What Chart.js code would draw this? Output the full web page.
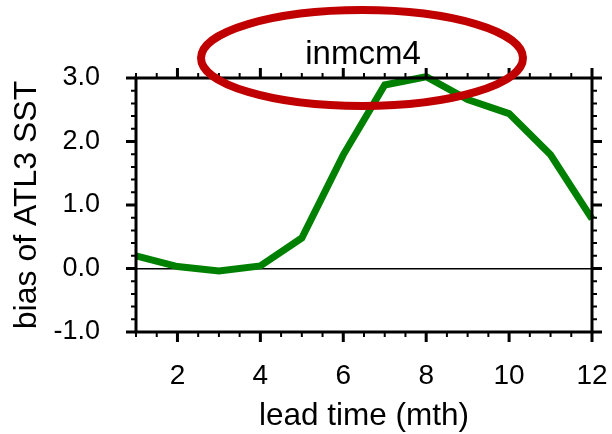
<!DOCTYPE html>
<html>
<head>
<meta charset="utf-8">
<script src="https://cdn.jsdelivr.net/npm/chart.js@4/dist/chart.umd.min.js"></script>
<style>
  html, body { margin: 0; padding: 0; background: #fff; }
  canvas { display: block; }
</style>
</head>
<body>
<canvas id="c" width="612" height="434"></canvas>
<script>
// Lead time in months and the ATL3 SST bias for inmcm4
const leadMonths = [1, 2, 3, 4, 5, 6, 7, 8, 9, 10, 11, 12];
const biasValues = [0.20, 0.03, -0.04, 0.04, 0.48, 1.79, 2.89, 3.02, 2.66, 2.44, 1.79, 0.78];

// Labelled ticks
const xTickValues = [2, 4, 6, 8, 10, 12];
const yTickValues = [-1, 0, 1, 2, 3];

// Axis ranges and minor tick spacing
const xRange = [1, 12];
const yRange = [-1, 3];
const xMinorStep = 0.5;
const yMinorStep = 0.2;

const modelName = 'inmcm4';
const xTitle = 'lead time (mth)';
const yTitle = 'bias of ATL3 SST';

const FONT = '"Liberation Sans", Arial, Helvetica, sans-serif';
Chart.defaults.color = '#000';
Chart.defaults.font.family = FONT;

// Frame with outward major/minor ticks on all four sides, the model name
// above the plot, and the highlight ellipse around it
const framePlugin = {
  id: 'frame',
  afterDatasetsDraw(chart) {
    const { ctx, chartArea: a, scales: { x, y } } = chart;
    ctx.save();
    ctx.strokeStyle = '#000';
    ctx.lineCap = 'butt';

    const major = (v, list) => list.some(t => Math.abs(t - v) < 1e-6);
    // x ticks (bottom: down, top: up)
    for (let v = xRange[0]; v <= xRange[1] + 1e-6; v += xMinorStep) {
      const px = x.getPixelForValue(v);
      const isMaj = major(v, xTickValues);
      const len = isMaj ? 10 : 5;
      ctx.lineWidth = isMaj ? 3 : 2;
      ctx.beginPath();
      ctx.moveTo(px, a.bottom); ctx.lineTo(px, a.bottom + len);
      ctx.moveTo(px, a.top); ctx.lineTo(px, a.top - len);
      ctx.stroke();
    }
    // y ticks (left: left, right: right)
    const nY = Math.round((yRange[1] - yRange[0]) / yMinorStep);
    for (let i = 0; i <= nY; i++) {
      const v = yRange[0] + i * yMinorStep;
      const py = y.getPixelForValue(v);
      const isMaj = major(v, yTickValues);
      const len = isMaj ? 10 : 5;
      ctx.lineWidth = isMaj ? 3 : 2;
      ctx.beginPath();
      ctx.moveTo(a.left, py); ctx.lineTo(a.left - len, py);
      ctx.moveTo(a.right, py); ctx.lineTo(a.right + len, py);
      ctx.stroke();
    }
    // plot frame
    ctx.lineWidth = 3;
    ctx.strokeRect(a.left, a.top, a.right - a.left, a.bottom - a.top);

    const cx = (a.left + a.right) / 2;

    // model name
    ctx.fillStyle = '#000';
    ctx.font = '33px ' + FONT;
    ctx.textAlign = 'center';
    ctx.textBaseline = 'alphabetic';
    ctx.fillText(modelName, cx - 1, a.top - 14);

    // red ellipse around the model name
    ctx.strokeStyle = '#c00000';
    ctx.lineWidth = 8;
    ctx.beginPath();
    ctx.ellipse(cx - 2, a.top - 20, 161, 48, 0, 0, Math.PI * 2);
    ctx.stroke();
    ctx.restore();
  }
};

new Chart(document.getElementById('c'), {
  type: 'line',
  data: {
    labels: leadMonths,
    datasets: [{
      data: leadMonths.map((m, i) => ({ x: m, y: biasValues[i] })),
      borderColor: 'rgb(0,128,0)',
      borderWidth: 7,
      pointRadius: 0,
      tension: 0,
      fill: false,
      clip: false
    }]
  },
  options: {
    responsive: false,
    animation: false,
    devicePixelRatio: 1,
    layout: { padding: { top: 78, right: 20, left: 0, bottom: 0 } },
    plugins: {
      legend: { display: false },
      tooltip: { enabled: false },
      title: { display: false }
    },
    scales: {
      x: {
        type: 'linear',
        min: xRange[0],
        max: xRange[1],
        afterBuildTicks: s => { s.ticks = xTickValues.map(v => ({ value: v })); },
        afterFit: s => { s.height = 102; s.paddingLeft = 0; s.paddingRight = 0; },
        grid: { display: false, drawTicks: false },
        border: { display: false },
        ticks: { font: { size: 28 }, padding: 27, maxRotation: 0, autoSkip: false },
        title: {
          display: true,
          text: xTitle,
          font: { size: 31.5, lineHeight: 1 },
          padding: { top: 0, bottom: 2 }
        }
      },
      y: {
        type: 'linear',
        min: yRange[0],
        max: yRange[1],
        afterBuildTicks: s => { s.ticks = yTickValues.map(v => ({ value: v })); },
        afterFit: s => { s.width = 136; s.paddingTop = 0; s.paddingBottom = 0; },
        grid: {
          drawTicks: false,
          color: c => (c.tick && c.tick.value === 0 ? '#000' : 'rgba(0,0,0,0)'),
          lineWidth: 1.5
        },
        border: { display: false },
        ticks: {
          font: { size: 27 },
          padding: 36,
          autoSkip: false,
          callback: v => Number(v).toFixed(1)
        },
        title: {
          display: true,
          text: yTitle,
          font: { size: 32, lineHeight: 1 },
          padding: { top: 11, bottom: 0 }
        }
      }
    }
  },
  plugins: [framePlugin]
});
</script>
</body>
</html>
